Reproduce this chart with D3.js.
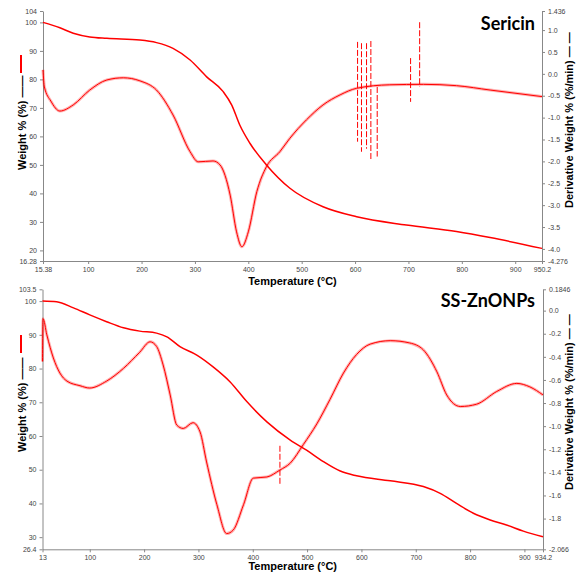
<!DOCTYPE html>
<html>
<head>
<meta charset="utf-8">
<script src="https://cdn.jsdelivr.net/npm/d3@7"></script>
<style>
body { margin: 0; background: #fff; }
.tick text { font-family: "Liberation Sans", Arial, sans-serif; font-size: 7px; fill: #444; }
.domain, .tick line { stroke: #888; }
.title { font-family: "Liberation Sans", Arial, sans-serif; font-weight: bold; font-size: 11px; fill: #000; }
.name { font-family: "Lato", "Open Sans", sans-serif; font-weight: bold; font-size: 18px; fill: #000; }
</style>
</head>
<body>
<svg id="chart" width="580" height="574"></svg>
<script>

// ---- Sericin ----
var sericinWeightT = [15.38, 47, 72, 103, 135, 197, 228, 259, 291, 322, 353, 369, 384, 403, 434, 478, 540, 603, 696, 790, 853, 950.2];
var sericinWeight  = [100, 98.1, 96.2, 94.9, 94.4, 93.8, 92.9, 90.9, 86.8, 80.9, 75.7, 71.0, 64.0, 57.6, 50.0, 41.8, 35.3, 31.8, 28.9, 26.6, 24.5, 20.7];

var sericinDerivT = [15.38, 18, 30, 47, 72, 103, 135, 166, 197, 228, 259, 291, 306, 334, 347, 366, 378, 388, 400, 416, 434, 459, 478, 509, 540, 572, 603, 665, 728, 790, 853, 950.2];
var sericinDeriv  = [0.09, -0.30, -0.62, -0.85, -0.71, -0.37, -0.14, -0.09, -0.16, -0.37, -0.94, -1.78, -2.01, -1.99, -2.08, -2.77, -3.61, -3.95, -3.61, -2.69, -2.12, -1.78, -1.47, -1.05, -0.71, -0.48, -0.33, -0.25, -0.24, -0.27, -0.37, -0.52];

var sericinSpikeT  = [604.7, 612, 621.5, 629.6, 641.5, 704, 721];
var sericinSpikeHi = [0.73, 0.70, 0.70, 0.75, -0.30, 0.36, 1.18];
var sericinSpikeLo = [-1.55, -1.78, -1.71, -1.97, -1.89, -0.64, -0.29];

var sericinXTicks = [15.38, 100, 200, 300, 400, 500, 600, 700, 800, 900, 950.2];
var sericinWTicks = [16.28, 20, 30, 40, 50, 60, 70, 80, 90, 100, 104];
var sericinDTicks = [-4.276, -4.0, -3.5, -3.0, -2.5, -2.0, -1.5, -1.0, -0.5, 0.0, 0.5, 1.0, 1.436];

// ---- SS-ZnONPs ----
var znWeightT = [13, 39, 70, 100, 131, 162, 192, 223, 242, 266, 297, 327, 358, 389, 426, 469, 499, 530, 561, 591, 653, 714, 745, 775, 806, 837, 867, 898, 934.2];
var znWeight  = [100, 99.8, 98.0, 95.9, 93.9, 92.1, 91.1, 90.5, 89.4, 86.5, 84.0, 80.5, 76.1, 70.2, 64.2, 58.8, 55.8, 52.4, 49.6, 48.2, 46.7, 45.0, 43.0, 40.0, 37.1, 35.1, 33.6, 31.8, 30.1];

var znDerivT = [13, 14, 21, 33, 45, 58, 82, 100, 131, 162, 192, 211, 223, 235, 248, 260, 272, 290, 303, 315, 334, 352, 364, 383, 401, 426, 450, 469, 493, 518, 542, 567, 591, 616, 653, 689, 714, 739, 757, 782, 812, 849, 886, 910, 934.2];
var znDeriv  = [-0.44, -0.07, -0.21, -0.41, -0.54, -0.61, -0.65, -0.67, -0.61, -0.50, -0.36, -0.27, -0.31, -0.47, -0.73, -0.99, -1.02, -0.97, -1.05, -1.31, -1.68, -1.93, -1.90, -1.68, -1.45, -1.44, -1.38, -1.32, -1.16, -0.98, -0.77, -0.54, -0.38, -0.29, -0.26, -0.28, -0.34, -0.53, -0.73, -0.83, -0.81, -0.70, -0.63, -0.66, -0.73];

var znSpikeT  = [450];
var znSpikeHi = [-1.17];
var znSpikeLo = [-1.51];

var znXTicks = [13, 100, 200, 300, 400, 500, 600, 700, 800, 900, 934.2];
var znWTicks = [26.4, 30, 40, 50, 60, 70, 80, 90, 100, 103.5];
var znDTicks = [-2.066, -1.8, -1.6, -1.4, -1.2, -1.0, -0.8, -0.6, -0.4, -0.2, 0.0, 0.1846];


function fmtD(d)
{
    var s = String(d);
    if (s.split(".")[1] && s.split(".")[1].length > 1) return s;
    return d.toFixed(1);
}

function drawPanel(svg, p)
{
    var x = d3.scaleLinear().domain([p.xTicks[0], p.xTicks[p.xTicks.length - 1]]).range([p.left, p.right]);
    var yW = d3.scaleLinear().domain([p.wTicks[0], p.wTicks[p.wTicks.length - 1]]).range([p.bottom, p.top]);
    var yD = d3.scaleLinear().domain([p.dTicks[0], p.dTicks[p.dTicks.length - 1]]).range([p.bottom, p.top]);

    var g = svg.append("g");

    g.append("g")
     .attr("transform", "translate(0," + p.bottom + ")")
     .call(d3.axisBottom(x).tickValues(p.xTicks).tickFormat(d => String(d)).tickSize(3).tickSizeOuter(0).tickPadding(3));

    g.append("g")
     .attr("transform", "translate(" + p.left + ",0)")
     .call(d3.axisLeft(yW).tickValues(p.wTicks).tickFormat(d => String(d)).tickSize(3).tickSizeOuter(0).tickPadding(3));

    g.append("g")
     .attr("transform", "translate(" + p.right + ",0)")
     .call(d3.axisRight(yD).tickValues(p.dTicks).tickFormat(fmtD).tickSize(3).tickSizeOuter(0).tickPadding(3));

    var wLine = d3.line()
                  .x((d, i) => x(p.weightT[i]))
                  .y(d => yW(d))
                  .curve(d3.curveMonotoneX);

    var dLine = d3.line()
                  .x((d, i) => x(p.derivT[i]))
                  .y(d => yD(d))
                  .curve(d3.curveMonotoneX);

    // noisy-looking band under the derivative trace
    g.append("path")
     .attr("d", dLine(p.deriv))
     .attr("fill", "none")
     .attr("stroke", "#ff0000")
     .attr("stroke-opacity", 0.3)
     .attr("stroke-width", 3);

    g.append("path")
     .attr("d", dLine(p.deriv))
     .attr("fill", "none")
     .attr("stroke", "#ff0000")
     .attr("stroke-width", 1);

    g.append("g")
     .selectAll("line")
     .data(p.spikeT)
     .enter()
     .append("line")
     .attr("x1", d => x(d))
     .attr("x2", d => x(d))
     .attr("y1", (d, i) => yD(p.spikeHi[i]))
     .attr("y2", (d, i) => yD(p.spikeLo[i]))
     .attr("stroke", "#ff0000")
     .attr("stroke-width", 1)
     .attr("stroke-dasharray", "6,2");

    g.append("path")
     .attr("d", wLine(p.weight))
     .attr("fill", "none")
     .attr("stroke", "#ff0000")
     .attr("stroke-width", 1.5);

    // titles
    g.append("text")
     .attr("class", "name")
     .attr("x", 535)
     .attr("y", p.nameY)
     .attr("text-anchor", "end")
     .text(p.name);

    g.append("text")
     .attr("class", "title")
     .attr("x", (p.left + p.right) / 2)
     .attr("y", p.xTitleY)
     .attr("text-anchor", "middle")
     .text("Temperature (°C)");

    g.append("text")
     .attr("class", "title")
     .attr("transform", "translate(26," + p.leftTitleY + ") rotate(-90)")
     .text("Weight % (%) \u2014\u2014");

    g.append("line")
     .attr("x1", 21).attr("x2", 21)
     .attr("y1", p.legY).attr("y2", p.legY + 18)
     .attr("stroke", "#ff0000")
     .attr("stroke-width", 2);

    g.append("text")
     .attr("class", "title")
     .attr("transform", "translate(573," + p.rightTitleY + ") rotate(-90)")
     .text("Derivative Weight % (%/min) \u2014 \u2014");
}

var svg = d3.select("#chart");

drawPanel(svg, {
    name: "Sericin", nameY: 30,
    left: 43, right: 542, top: 11, bottom: 261,
    xTitleY: 285, leftTitleY: 170, legY: 55, rightTitleY: 208,
    xTicks: sericinXTicks, wTicks: sericinWTicks, dTicks: sericinDTicks,
    weightT: sericinWeightT, weight: sericinWeight,
    derivT: sericinDerivT, deriv: sericinDeriv,
    spikeT: sericinSpikeT, spikeHi: sericinSpikeHi, spikeLo: sericinSpikeLo
});

drawPanel(svg, {
    name: "SS-ZnONPs", nameY: 307,
    left: 42.5, right: 543, top: 289.3, bottom: 549.3,
    xTitleY: 570, leftTitleY: 452, legY: 335, rightTitleY: 490,
    xTicks: znXTicks, wTicks: znWTicks, dTicks: znDTicks,
    weightT: znWeightT, weight: znWeight,
    derivT: znDerivT, deriv: znDeriv,
    spikeT: znSpikeT, spikeHi: znSpikeHi, spikeLo: znSpikeLo
});

</script>
</body>
</html>
